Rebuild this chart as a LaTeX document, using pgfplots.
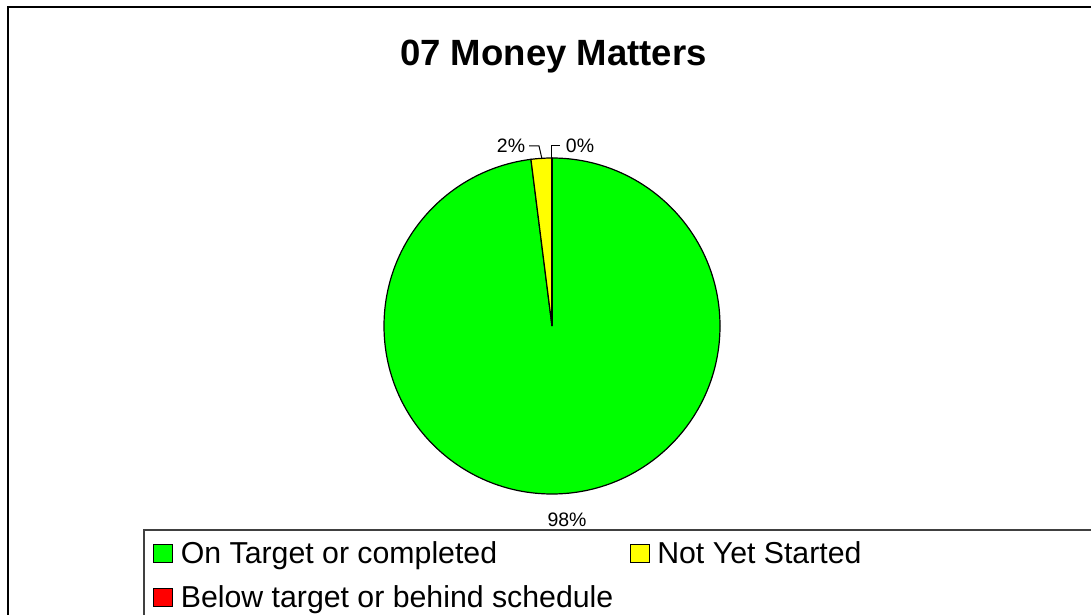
\documentclass[border=0pt]{standalone}
\usepackage{pgfplots}
\pgfplotsset{compat=1.18}
\usepackage{fontspec}
\setmainfont{Liberation Sans}
\definecolor{ontarget}{HTML}{00FF00}
\definecolor{notstarted}{HTML}{FFFF00}
\definecolor{behind}{HTML}{FF0000}
\definecolor{legframe}{HTML}{404040}

% shares (percent), clockwise from 12 o'clock as in the source
\def\vOn{98}
\def\vNot{2}
\def\vBehind{0}
\pgfmathsetmacro\aA{90}
\pgfmathsetmacro\aB{\aA-3.6*\vOn}
\pgfmathsetmacro\aC{\aB-3.6*\vNot}
\pgfmathsetmacro\aD{\aC-3.6*\vBehind}
\def\pieR{126pt}

\begin{document}
\begin{tikzpicture}
\path[use as bounding box] (0,0) rectangle (818.25pt,460.5pt);
\clip (0,0) rectangle (818.25pt,460.5pt);
\begin{axis}[
  x=0.75pt, y=0.75pt,
  xmin=0, xmax=1091, ymin=0, ymax=614,
  hide axis, clip=false,
  at={(0,0)}, anchor=origin,
  legend columns=2,
  legend cell align=left,
  legend style={draw=none, fill=none, inner sep=0pt,
    at={(0.1402,0.1140)}, anchor=north west,
    font=\fontsize{22.7}{26}\selectfont,
    nodes={inner sep=0pt, text height=0.75em, text depth=0.25em},
    row sep=15.75pt,
    /tikz/every odd column/.append style={column sep=5.75pt},
    /tikz/every even column/.append style={column sep=12.25pt}},
  legend image code/.code={\draw[#1, draw=black, line width=0.75pt] (0pt,-1.7pt) rectangle (14.25pt,11.8pt);},
]
\addlegendimage{fill=ontarget}
\addlegendentry{On Target or completed}
\addlegendimage{fill=notstarted}
\addlegendentry{Not Yet Started}
\addlegendimage{fill=behind}
\addlegendentry{Below target or behind schedule}

% slices
\filldraw[fill=ontarget, draw=black, line width=0.9pt]
  (axis cs:552,288) -- ++(\aA:\pieR) arc[start angle=\aA, end angle=\aB, radius=\pieR] -- cycle;
\filldraw[fill=notstarted, draw=black, line width=0.9pt]
  (axis cs:552,288) -- ++(\aB:\pieR) arc[start angle=\aB, end angle=\aC, radius=\pieR] -- cycle;
\draw[black, line width=0.9pt] (axis cs:552,288) -- ++(\aD:\pieR);

% data labels
\node[anchor=base, font=\fontsize{14.6}{17}\selectfont] at (axis cs:567,88) {98\%};
\node[anchor=base, font=\fontsize{14.6}{17}\selectfont] at (axis cs:511,461) {2\%};
\node[anchor=base, font=\fontsize{14.6}{17}\selectfont] at (axis cs:580,461) {0\%};
\draw[black, line width=0.75pt] (axis cs:529,468) -- (axis cs:539,468) -- (axis cs:542,455);
\draw[black, line width=0.75pt] (axis cs:551,455) -- (axis cs:551,468) -- (axis cs:560,468);

% title
\node[anchor=base, font=\bfseries\fontsize{27.4}{32}\selectfont] at (axis cs:553.5,548) {07 Money Matters};

% frames
\draw[black, line width=1.1pt] (axis cs:8,-20) rectangle (axis cs:1120,607);
\draw[legframe, line width=1.5pt] (axis cs:144,-20) rectangle (axis cs:1120,84);
\end{axis}
\end{tikzpicture}
\end{document}
